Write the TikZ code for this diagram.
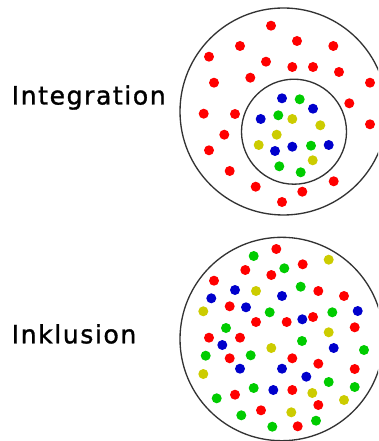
\documentclass[tikz,border=0pt]{standalone}
\usepackage{fontspec}
\newfontfamily\labelfont[LetterSpace=6,FakeBold=1.2]{DejaVu Sans}
\usepackage{xcolor}
\usepackage{tikz}
\usetikzlibrary{positioning}

\definecolor{dotred}{RGB}{255,0,0}
\definecolor{dotgreen}{RGB}{0,204,0}
\definecolor{dotblue}{RGB}{0,0,204}
\definecolor{dotyellow}{RGB}{204,204,0}
\definecolor{ringgray}{RGB}{51,51,51}

\begin{document}
\begin{tikzpicture}[
      x=0.0265cm, y=-0.0265cm,
      ring/.style={draw=ringgray, line width=1pt},
      dot/.style={fill=#1},
      every node/.style={font=\labelfont\fontsize{19}{23}\selectfont, inner sep=0pt, anchor=base west}
    ]
      \useasboundingbox (0,0) rectangle (378,441);
      \clip (0,0) rectangle (378,441);
      % labels
      \node (integration) at (11.5,104.5) {Integration};
      \node (inklusion) at (11.5,343.3) {Inklusion};
      % integration: outer and inner ring
      \draw[ring] (283.5,111.5) circle (103.5);
      \draw[ring] (294,131.7) circle (52.5);
      \foreach \x/\y in {271/25.7, 297/41, 333.3/46, 240/46, 209/56.7, 266/61.7,
          292.3/67, 313/67, 339/72, 214/82.7, 250.3/77.7, 370/82.7, 349.3/103.3,
          203.7/113.7, 235/114, 370/124.3, 224.3/134.7, 209/150.3, 229.7/171,
          255.7/186.7, 302.3/191.7, 333.7/181.3, 282/202}
        \fill[dot=dotred] (\x,\y) circle (5);
      \foreach \x/\y in {282/98.3, 313/108.7, 260.7/119, 275/151, 292.3/146.7, 328.7/145}
        \fill[dot=dotblue] (\x,\y) circle (5);
      \foreach \x/\y in {299.7/99.3, 278.3/115.3, 311/145.7, 279.3/166.3, 300.7/172.3}
        \fill[dot=dotgreen] (\x,\y) circle (5);
      \foreach \x/\y in {292.3/119, 320.3/125.3, 276.7/134.7, 258.7/145, 312.7/160.3}
        \fill[dot=dotyellow] (\x,\y) circle (5);
      % inklusion: one ring, all mixed
      \draw[ring] (281.7,339) circle (101.7);
      \foreach \x/\y in {276.3/249, 245.3/270, 302.7/264.3, 271.3/275, 214/280.7,
          318.3/291, 344/296, 229.7/306.3, 313/317, 256/322, 286.7/322, 354.7/327.3,
          209/337.7, 240/337.7, 229.7/358.3, 292.3/358.3, 318.3/363.7, 354.7/369,
          292.3/390, 235/394.7, 318.3/405, 261/410.3, 297.7/426.3}
        \fill[dot=dotred] (\x,\y) circle (5);
      \foreach \x/\y in {253.7/256, 284.3/268.3, 300.7/286.7, 269.7/312.3, 332.3/312.3,
          226/328, 302/341, 364/350, 205.7/355.7, 250.7/355.3, 328.7/382, 354.7/387,
          253.7/388, 216.7/398.3, 241.3/415.3, 316/420.7, 272.3/426.7}
        \fill[dot=dotgreen] (\x,\y) circle (5);
      \foreach \x/\y in {235/290, 282/296, 211.3/298.3, 246/307.3, 357.7/311, 302.3/319.3,
          222.3/345, 333.7/348, 240/368.7, 282/368.7, 306.3/376.7, 273.3/390}
        \fill[dot=dotblue] (\x,\y) circle (5);
      \foreach \x/\y in {328.7/259.7, 256/291, 203.3/311.3, 328.7/332.3, 271.3/348,
          203.3/374, 312.3/393, 344/400, 291.3/412.3}
        \fill[dot=dotyellow] (\x,\y) circle (5);
    \end{tikzpicture}
\end{document}
